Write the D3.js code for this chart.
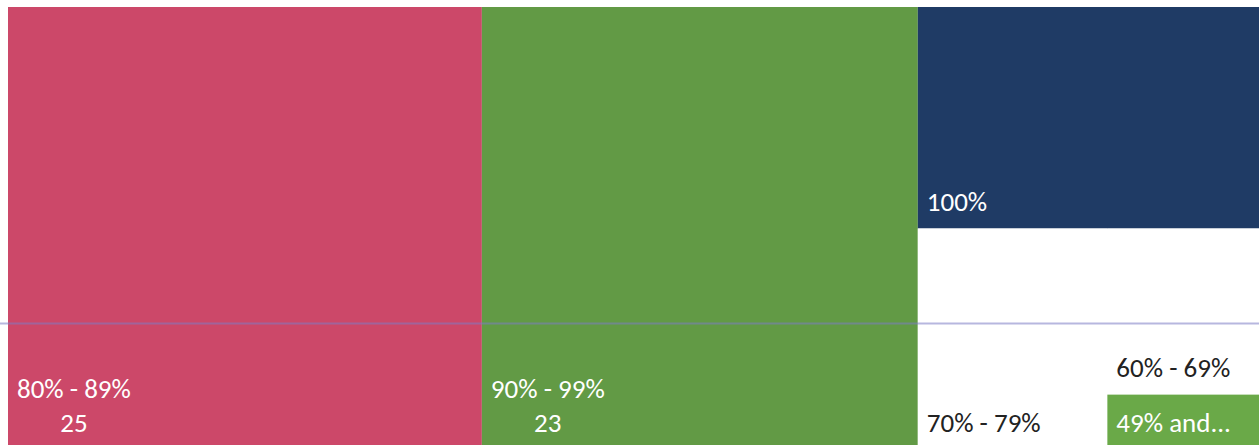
<!DOCTYPE html>
<html>
<head>
<meta charset="utf-8">
<script src="https://cdn.jsdelivr.net/npm/d3@7"></script>
<style>
  html, body { margin: 0; padding: 0; background: #ffffff; overflow: hidden; }
  svg { display: block; }
  text { font-family: Carlito, Lato, "Open Sans", sans-serif; }
</style>
</head>
<body>
<svg id="chart" width="1259" height="445"></svg>
<script>
// Score bands and number of students in each
const bands  = ["80% - 89%", "90% - 99%", "100%", "70% - 79%", "60% - 69%", "49% and..."];
const counts = [25, 23, 9, 5, 3, 1];
// Which bands also print their count under the name
const showCount = [true, true, false, false, false, false];
const fills     = ["#cc4869", "#629a45", "#1f3b65", "#ffffff", "#ffffff", "#6aa948"];
const inks      = ["#ffffff", "#ffffff", "#ffffff", "#222222", "#222222", "#ffffff"];

const W = 1259, H = 445;
const mapLeft = 8, mapTop = 7, mapRight = 1259, mapBottom = 450;
const svg = d3.select("#chart");

const root = d3.hierarchy({
  children: bands.map((b, i) => ({ name: b, value: counts[i], i }))
}).sum(d => d.value || 0).sort((a, b) => b.value - a.value);

d3.treemap()
  .tile(d3.treemapSquarify.ratio(1))
  .size([mapRight - mapLeft, mapBottom - mapTop])
  .round(false)(root);

const plot = svg.append("g").attr("transform", `translate(${mapLeft},${mapTop})`);

const cell = plot.selectAll("g.cell")
  .data(root.leaves())
  .join("g")
  .attr("class", "cell")
  .attr("transform", d => `translate(${d.x0},${d.y0})`);

cell.append("rect")
  .attr("width", d => d.x1 - d.x0)
  .attr("height", d => d.y1 - d.y0)
  .attr("fill", d => fills[d.data.i]);

const fs = 27, lh = 34, padL = 9, padB = 18;

cell.each(function(d) {
  const g = d3.select(this);
  const i = d.data.i;
  const h = d.y1 - d.y0;
  const lines = showCount[i] ? [d.data.name, String(d.data.value)] : [d.data.name];
  const t = g.append("text")
    .attr("fill", inks[i])
    .attr("font-size", fs);
  const first = t.append("tspan").attr("x", padL).text(lines[0]);
  if (lines.length > 1) {
    const w = first.node().getComputedTextLength();
    first.attr("y", h - padB - lh);
    t.append("tspan")
      .attr("x", padL + w / 2)
      .attr("y", h - padB)
      .attr("text-anchor", "middle")
      .text(lines[1]);
  } else {
    first.attr("y", h - padB);
  }
});

// faint ruled line running across the page
svg.append("line")
  .attr("x1", 0).attr("x2", W)
  .attr("y1", 323.5).attr("y2", 323.5)
  .attr("stroke", "#7c7cc4")
  .attr("stroke-opacity", 0.55)
  .attr("stroke-width", 2);
</script>
</body>
</html>
